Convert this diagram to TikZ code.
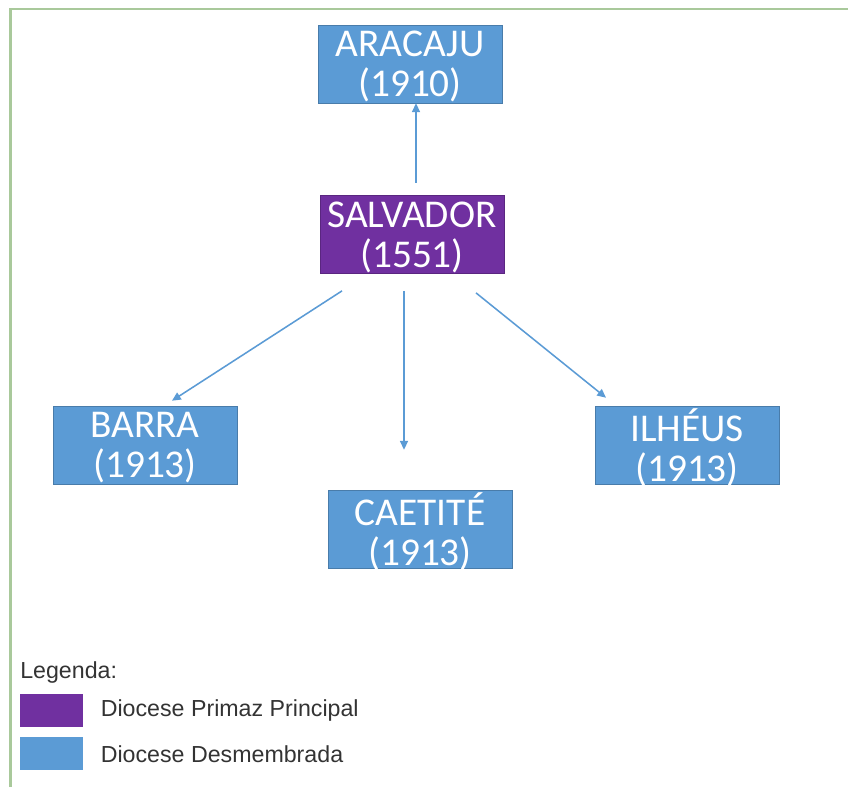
\documentclass[tikz,border=0pt]{standalone}
\usepackage{fontspec}
\setmainfont{Carlito}
\newfontfamily\legendfont{Liberation Sans}
\usepackage{xcolor}
\usepackage{tikz}
\usetikzlibrary{arrows.meta,positioning,calc}

\definecolor{diocblue}{HTML}{5B9BD5}
\definecolor{diocpurple}{HTML}{7030A0}
\definecolor{framegreen}{HTML}{A9C99B}

\begin{document}
\begin{tikzpicture}[
    diocese/.style={rectangle, fill=diocblue, draw=diocblue!80!black, line width=0.4pt,
        minimum width=4.6cm, minimum height=1.95cm, inner sep=1pt, align=center,
        text=white, text depth=0pt, font=\fontsize{28}{28.5}\selectfont},
    primaz/.style={diocese, fill=diocpurple, draw=diocpurple!80!black},
    link/.style={-{Triangle[length=2.2mm,width=2mm]}, diocblue, line width=1.1pt},
    swatch/.style={rectangle, minimum width=1.575cm, minimum height=0.83cm, inner sep=0pt},
    legtext/.style={font=\legendfont\fontsize{16.5}{18}\selectfont, text=black!80, inner sep=0pt}
]
\useasboundingbox (0,0) rectangle (21.2,19.675);

% Frame
\draw[framegreen, line width=1.6pt] (0.26,0) -- (0.26,19.45) -- (21.2,19.45);

% Dioceses
\node[diocese] (aracaju) at (10.25,18.075) {ARACAJU\\(1910)};
\node[primaz] (salvador) at (10.3,13.81) {SALVADOR\\(1551)};
\node[diocese] (barra) at (3.625,8.55) {BARRA\\(1913)};
\node[diocese] (caetite) at (10.5,6.45) {CAETITÉ\\(1913)};
\node[diocese] (ilheus) at (17.175,8.55) {ILHÉUS\\(1913)};

% Desmembramentos
\draw[link] ([xshift=1mm,yshift=3.2mm]salvador.north) -- ([xshift=1mm]salvador.north |- aracaju.south);
\draw[link] ($(salvador.south)+(-1.75,-0.425)$) -- ($(barra.north)+(0.675,0.125)$);
\draw[link] ($(salvador.south)+(-0.2,-0.425)$) -- ($(caetite.north)+(-0.4,1.0)$);
\draw[link] ($(salvador.south)+(1.6,-0.475)$) -- ($(ilheus.north)+(-2.025,0.2)$);

% Legenda
\node[legtext, anchor=west] (legenda) at (0.5,2.875) {Legenda:};
\node[swatch, fill=diocpurple, anchor=north west] (swprimaz) at (0.5,2.325) {};
\node[swatch, fill=diocblue, anchor=north west] (swdesm) at (0.5,1.25) {};
\node[legtext, right=0.425cm of swprimaz] (txprimaz) {Diocese Primaz Principal};
\node[legtext, right=0.425cm of swdesm] (txdesm) {Diocese Desmembrada};

\end{tikzpicture}
\end{document}
